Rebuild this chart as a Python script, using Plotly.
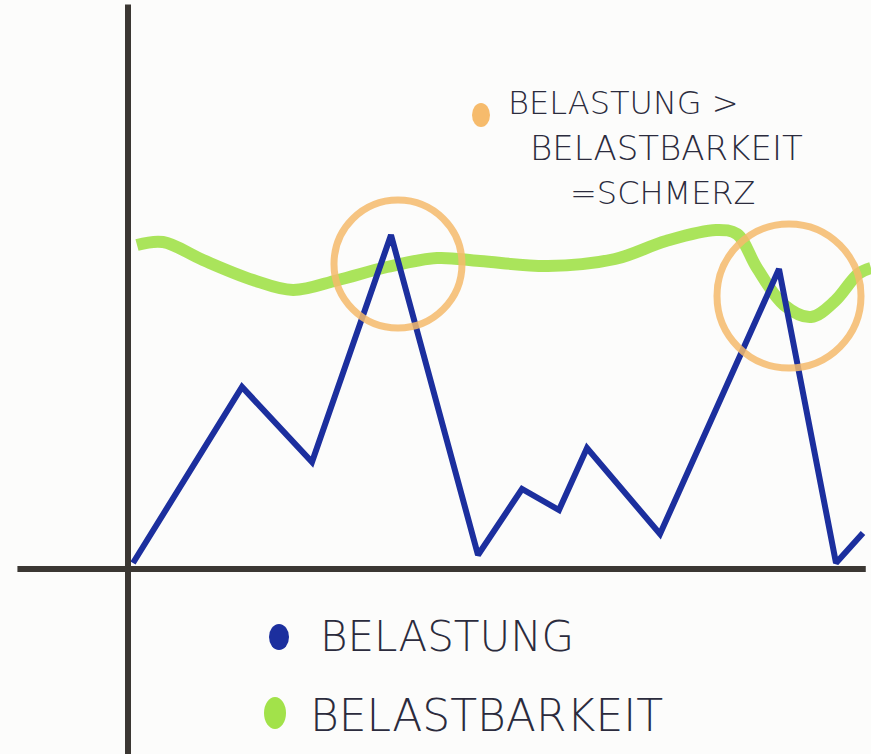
import plotly.graph_objects as go

# Data (x: time units, y: level units; origin at axis crossing)
belastung_x = [0.5, 11.4, 18.4, 26.3, 35.0, 39.4, 43.1, 45.9, 53.2, 65.1, 70.8, 73.5]
belastung_y = [0.6, 18.2, 10.7, 33.4, 1.4, 8.0, 5.9, 12.1, 3.5, 30.0, 0.6, 3.6]

belastbarkeit_x = [0.9, 3.5, 7.5, 12.5, 16.5, 21.0, 25.9, 30.9, 35.2, 42.0, 48.7, 53.8, 58.8, 60.9, 62.9, 65.6, 68.3, 70.7, 73.0, 74.3]
belastbarkeit_y = [32.4, 32.7, 30.9, 28.9, 27.9, 28.9, 30.2, 31.1, 30.8, 30.3, 31.0, 32.8, 33.9, 33.5, 30.1, 26.4, 25.2, 26.8, 29.5, 30.1]

# highlighted overload zones: centre x, centre y, radius (x units, y units)
highlight_x = [27.0, 66.1]
highlight_y = [30.5, 27.3]
highlight_r = [6.4, 7.2]

series_names = ["BELASTUNG", "BELASTBARKEIT"]
note_lines = ["BELASTUNG >", "BELASTBARKEIT", "=SCHMERZ"]

BLUE = "#1c2f9e"
GREEN = "#a2e24a"
ORANGE = "#f6bb6c"
AXIS = "#3b3733"
INK = "#2b2b3d"
FONT = "DejaVu Sans"

fig = go.Figure()

fig.add_trace(go.Scatter(
    x=belastbarkeit_x, y=belastbarkeit_y, mode="lines",
    line=dict(color=GREEN, width=12, shape="spline", smoothing=1.0),
    opacity=0.9, name=series_names[1], hoverinfo="skip"))

fig.add_trace(go.Scatter(
    x=belastung_x, y=belastung_y, mode="lines",
    line=dict(color=BLUE, width=6), name=series_names[0], hoverinfo="skip"))

shapes = []
for cx, cy, r in zip(highlight_x, highlight_y, highlight_r):
    shapes.append(dict(type="circle", xref="x", yref="y",
                       x0=cx - r, x1=cx + r, y0=cy - r, y1=cy + r,
                       line=dict(color=ORANGE, width=7), opacity=0.85, layer="above"))

# axes lines
shapes.append(dict(type="line", xref="paper", yref="y", x0=0.02, x1=0.994, y0=0, y1=0,
                   line=dict(color=AXIS, width=6)))
shapes.append(dict(type="line", xref="x", yref="paper", x0=0, x1=0, y0=0, y1=0.994,
                   line=dict(color=AXIS, width=6)))

# legend dots (paper coords)
W, H = 871, 754
def dot(cx, cy, rx, ry, color):
    return dict(type="circle", xref="paper", yref="paper",
                x0=(cx - rx) / W, x1=(cx + rx) / W,
                y0=1 - (cy + ry) / H, y1=1 - (cy - ry) / H,
                fillcolor=color, line=dict(width=0))
shapes.append(dot(279, 637, 10, 13, BLUE))
shapes.append(dot(275, 713, 11, 16, GREEN))
shapes.append(dot(481, 115, 9, 12, ORANGE))

annotations = []
def label(text, x, y, size):
    annotations.append(dict(text=text, xref="paper", yref="paper",
                            x=x / W, y=1 - y / H, xanchor="left", yanchor="middle",
                            showarrow=False,
                            font=dict(family=FONT, size=size, color=INK, weight=200)))
label(series_names[0], 318, 636, 42)
label(series_names[1], 308, 715, 44)
label(note_lines[0], 506, 103, 32)
label(note_lines[1], 528, 148, 34)
label(note_lines[2], 568, 193, 32)

fig.update_layout(
    width=W, height=H, autosize=False,
    margin=dict(l=0, r=0, t=0, b=0),
    paper_bgcolor="#fcfcfb", plot_bgcolor="#fcfcfb",
    showlegend=False,
    shapes=shapes, annotations=annotations,
    xaxis=dict(range=[-12.8, 74.3], showgrid=False, zeroline=False,
               showticklabels=False, ticks="", fixedrange=True),
    yaxis=dict(range=[-18.5, 56.9], showgrid=False, zeroline=False,
               showticklabels=False, ticks="", fixedrange=True),
)

fig.write_html("out.html", config={"displayModeBar": False},
               post_script="document.body.style.margin='0px';document.body.style.padding='0px';document.body.style.overflow='hidden';")
